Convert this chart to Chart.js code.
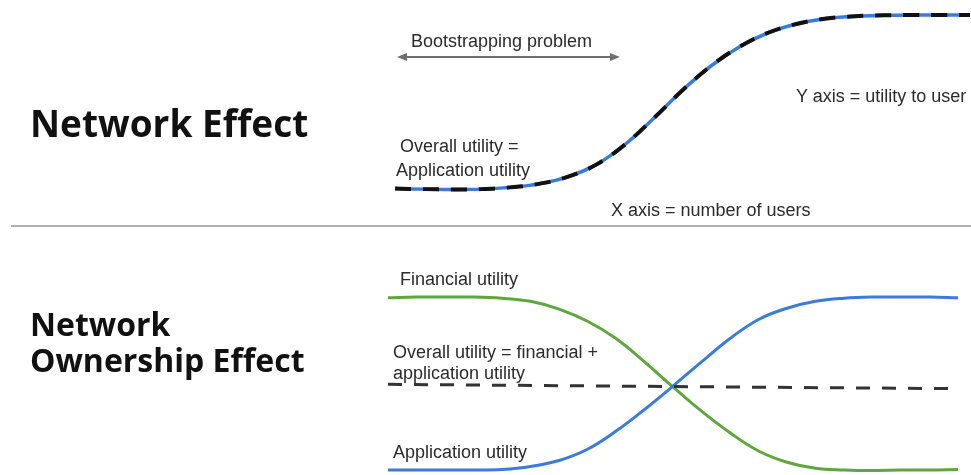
<!DOCTYPE html>
<html>
<head>
<meta charset="utf-8">
<script src="https://cdn.jsdelivr.net/npm/chart.js@4/dist/chart.umd.min.js"></script>
<style>
  html, body { margin:0; padding:0; background:#fff; }
  #wrap { position:relative; width:971px; height:475px; overflow:hidden; background:#fff; }
  canvas { position:absolute; left:0; }
  .lbl { position:absolute; font-family:"Liberation Sans", Arial, sans-serif; font-size:18px; line-height:20px; color:#2b2b2b; white-space:nowrap; }
  .head { position:absolute; font-family:"Open Sans", sans-serif; font-weight:700; color:#111; white-space:nowrap; left:30px; }
  svg { position:absolute; left:0; top:0; }
</style>
</head>
<body>
<div id="wrap">
  <canvas id="top" width="971" height="225" style="top:0"></canvas>
  <canvas id="bottom" width="971" height="235" style="top:240px"></canvas>
  <svg width="971" height="475">
    <line x1="11" y1="226" x2="971" y2="226" stroke="#b0b0b0" stroke-width="2"/>
    <line x1="404" y1="57" x2="612" y2="57" stroke="#6e6e6e" stroke-width="2"/>
    <polygon points="397,57 407,53 407,61" fill="#6e6e6e"/>
    <polygon points="620,57 610,53 610,61" fill="#6e6e6e"/>
  </svg>
  <div class="head" style="top:104px;font-size:37px;line-height:37px;">Network Effect</div>
  <div class="head" style="top:306px;font-size:32px;line-height:36px;">Network<br>Ownership Effect</div>
  <div class="lbl" style="left:411px;top:31px;">Bootstrapping problem</div>
  <div class="lbl" style="left:796px;top:86px;">Y axis = utility to user</div>
  <div class="lbl" style="left:400px;top:136px;">Overall utility =</div>
  <div class="lbl" style="left:396px;top:160px;">Application utility</div>
  <div class="lbl" style="left:611px;top:200px;">X axis = number of users</div>
  <div class="lbl" style="left:400px;top:269px;">Financial utility</div>
  <div class="lbl" style="left:393px;top:342px;">Overall utility = financial +</div>
  <div class="lbl" style="left:393px;top:363px;">application utility</div>
  <div class="lbl" style="left:393px;top:442px;">Application utility</div>
</div>
<script>
// Top panel: Network Effect (overall utility = application utility)
const topUsers   = [0, 5, 10, 15, 20, 25, 30, 35, 40, 45, 50, 55, 60, 65, 70, 75, 80, 85, 90, 95, 100];
const topUtility = [0.8, 0.5, 0.3, 0.5, 1.5, 3.5, 7.5, 14.5, 26, 41, 57, 71, 82, 90, 95, 98, 99.3, 99.8, 100, 100, 100];

// Bottom panel: Network Ownership Effect
const bottomUsers        = [0, 5, 10, 15, 20, 25, 30, 35, 40, 45, 50, 55, 60, 65, 70, 75, 80, 85, 90, 95, 100];
const financialUtility   = [99.5, 100, 100, 100, 99.3, 97.5, 93, 86, 76, 62.5, 48, 34, 21.5, 11, 4.5, 1, 0, -0.3, 0, 0, 0.3];
const applicationUtility = [0, 0, 0, 0, 0.3, 2, 5.5, 12, 22.5, 35, 48.5, 62.5, 76, 87, 93.5, 97.5, 99.3, 100, 100, 100, 99.5];
const overallUsers       = [0, 100];
const overallUtility     = [49.5, 47];

const BLUE = '#3a7be0';
const GREEN = '#5ea73c';

function pts(xs, ys) { return xs.map((x, i) => ({ x: x, y: ys[i] })); }

function baseOptions(padding) {
  return {
    responsive: false,
    devicePixelRatio: 1,
    animation: false,
    events: [],
    layout: { padding: padding },
    plugins: { legend: { display: false }, tooltip: { enabled: false }, title: { display: false } },
    elements: { point: { radius: 0 }, line: { cubicInterpolationMode: 'default', tension: 0.4, borderCapStyle: 'butt' } },
    scales: {
      x: { type: 'linear', min: 0, max: 100, display: false },
      y: { type: 'linear', min: 0, max: 100, display: false }
    }
  };
}

// Note: dataset index 0 is drawn on top in Chart.js
new Chart(document.getElementById('top'), {
  type: 'line',
  data: {
    datasets: [
      { label: 'Overall utility', data: pts(topUsers, topUtility), borderColor: '#111', borderWidth: 4, borderDash: [16, 12], fill: false, clip: false },
      { label: 'Application utility', data: pts(topUsers, topUtility), borderColor: BLUE, borderWidth: 3.5, fill: false, clip: false }
    ]
  },
  options: baseOptions({ left: 395, right: 1, top: 15, bottom: 35 })
});

new Chart(document.getElementById('bottom'), {
  type: 'line',
  data: {
    datasets: [
      { label: 'Overall utility', data: pts(overallUsers, overallUtility), borderColor: '#333', borderWidth: 3, borderDash: [14, 12], fill: false, clip: false, tension: 0 },
      { label: 'Application utility', data: pts(bottomUsers, applicationUtility), borderColor: BLUE, borderWidth: 3, fill: false, clip: false },
      { label: 'Financial utility', data: pts(bottomUsers, financialUtility), borderColor: GREEN, borderWidth: 3, fill: false, clip: false }
    ]
  },
  options: baseOptions({ left: 388, right: 13, top: 57, bottom: 5 })
});
</script>
</body>
</html>
